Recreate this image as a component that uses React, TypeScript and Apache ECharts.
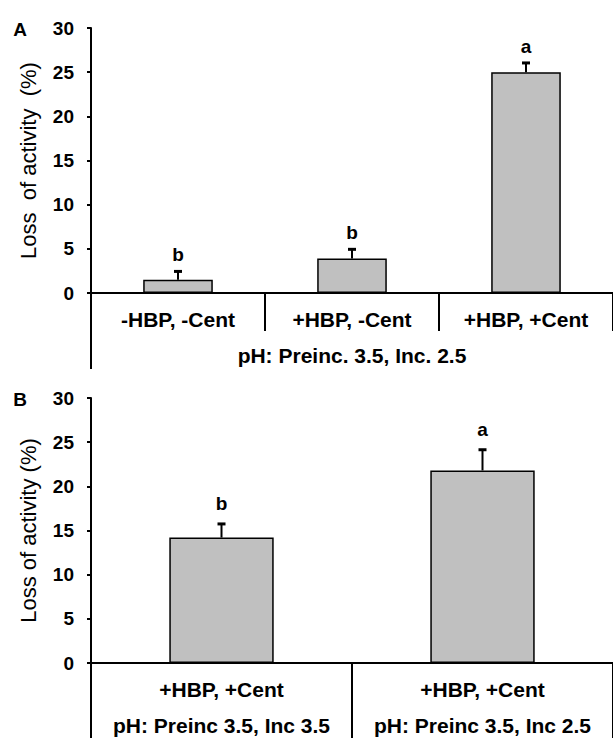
import React, { useEffect, useRef } from "react";
import * as echarts from "echarts";

const categoriesA = ["-HBP, -Cent", "+HBP, -Cent", "+HBP, +Cent"];
const valuesA = [1.5, 3.9, 25.0];
const errorsA = [1.0, 1.1, 1.1];
const lettersA = ["b", "b", "a"];
const groupLabelA = "pH: Preinc. 3.5, Inc. 2.5";

const categoriesB = [
  "+HBP, +Cent\npH: Preinc 3.5, Inc 3.5",
  "+HBP, +Cent\npH: Preinc 3.5, Inc 2.5",
];
const valuesB = [14.2, 21.8];
const errorsB = [1.6, 2.4];
const lettersB = ["b", "a"];

const yTitleA = "Loss  of activity  (%)";
const yTitleB = "Loss of activity (%)";

const FONT = "Arial, 'Liberation Sans', sans-serif";

function errorSeries(gridIdx: number, values: number[], errors: number[], letters: string[], gap: number) {
  return {
    type: "custom",
    xAxisIndex: gridIdx,
    yAxisIndex: gridIdx,
    z: 5,
    data: values.map((v, i) => [i, v, errors[i]]),
    encode: { x: 0, y: 1 },
    renderItem: (params: any, api: any) => {
      const idx = api.value(0);
      const v = api.value(1);
      const e = api.value(2);
      const base = api.coord([idx, v]);
      const top = api.coord([idx, v + e]);
      return {
        type: "group",
        children: [
          {
            type: "line",
            shape: { x1: base[0], y1: base[1], x2: top[0], y2: top[1] },
            style: { stroke: "#000", lineWidth: 2 },
          },
          {
            type: "line",
            shape: { x1: top[0] - 4, y1: top[1] + 0.5, x2: top[0] + 4, y2: top[1] + 0.5 },
            style: { stroke: "#000", lineWidth: 3 },
          },
          {
            type: "text",
            x: top[0],
            y: top[1] - gap,
            style: {
              text: letters[params.dataIndex],
              textAlign: "center",
              textVerticalAlign: "middle",
              font: `bold 19px ${FONT}`,
              fill: "#000",
            },
          },
        ],
      };
    },
  };
}

export default function App() {
  const ref = useRef<HTMLDivElement>(null);
  useEffect(() => {
    document.body.style.margin = "0";
    const chart = echarts.init(ref.current!, null, { renderer: "svg" });
    const left = 91;
    const axisLine = { show: true, lineStyle: { color: "#000", width: 2 } };
    const yAxisBase = (gridIndex: number, name: string) => ({
      type: "value",
      gridIndex,
      min: 0,
      max: 30,
      interval: 5,
      name,
      nameLocation: "middle",
      nameGap: 52,
      nameTextStyle: { fontFamily: FONT, fontSize: 22, color: "#000", lineHeight: 22 },
      axisLine,
      axisTick: { show: true, length: 4, lineStyle: { color: "#000", width: 2 } },
      axisLabel: { fontFamily: FONT, fontSize: 19, fontWeight: "bold", color: "#000", margin: 17 },
      splitLine: { show: false },
    });
    chart.setOption({
      animation: false,
      backgroundColor: "#fff",
      grid: [
        { left, right: -2, top: 28, height: 265 },
        { left, right: -2, top: 398, height: 265 },
      ],
      xAxis: [
        {
          type: "category",
          gridIndex: 0,
          data: categoriesA,
          name: groupLabelA,
          nameLocation: "middle",
          nameGap: 50,
          nameTextStyle: { fontFamily: FONT, fontSize: 21, fontWeight: "bold", color: "#000", lineHeight: 24 },
          axisLine,
          axisTick: { show: true, length: 38, lineStyle: { color: "#000", width: 2 } },
          axisLabel: { fontFamily: FONT, fontSize: 21, fontWeight: "bold", color: "#000", margin: 14, lineHeight: 24, interval: 0 },
        },
        {
          type: "category",
          gridIndex: 1,
          data: categoriesB,
          axisLine,
          axisTick: { show: true, length: 75, lineStyle: { color: "#000", width: 2 } },
          axisLabel: { fontFamily: FONT, fontSize: 21, fontWeight: "bold", color: "#000", margin: 8, lineHeight: 36, interval: 0 },
        },
      ],
      yAxis: [yAxisBase(0, yTitleA), yAxisBase(1, yTitleB)],
      series: [
        {
          type: "bar",
          xAxisIndex: 0,
          yAxisIndex: 0,
          data: valuesA,
          barWidth: "40%",
          itemStyle: { color: "#c0c0c0", borderColor: "#000", borderWidth: 1.5 },
        },
        {
          type: "bar",
          xAxisIndex: 1,
          yAxisIndex: 1,
          data: valuesB,
          barWidth: "40%",
          itemStyle: { color: "#c0c0c0", borderColor: "#000", borderWidth: 1.5 },
        },
        errorSeries(0, valuesA, errorsA, lettersA, 16),
        errorSeries(1, valuesB, errorsB, lettersB, 20),
      ],
      graphic: [
        {
          type: "line",
          shape: { x1: left, y1: 293, x2: left, y2: 369 },
          style: { stroke: "#000", lineWidth: 2 },
        },
        {
          type: "text",
          x: 20,
          y: 29,
          style: { text: "A", font: `bold 19px ${FONT}`, fill: "#000", textAlign: "center", textVerticalAlign: "middle" },
        },
        {
          type: "text",
          x: 20,
          y: 399,
          style: { text: "B", font: `bold 19px ${FONT}`, fill: "#000", textAlign: "center", textVerticalAlign: "middle" },
        },
      ],
    });
    return () => chart.dispose();
  }, []);
  return <div ref={ref} style={{ width: 613, height: 745 }} />;
}
